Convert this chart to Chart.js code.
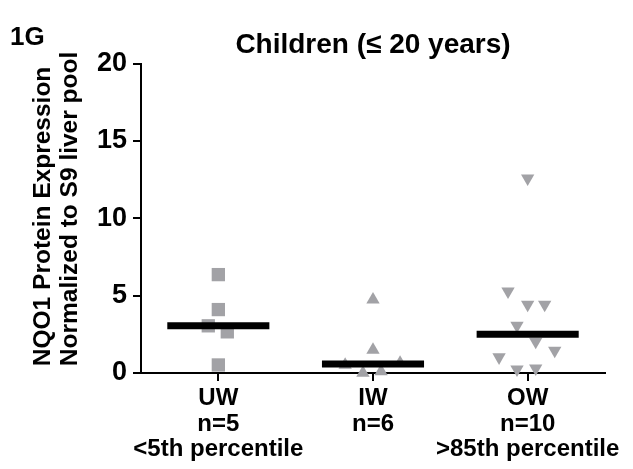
<!DOCTYPE html>
<html>
<head>
<meta charset="utf-8">
<script src="https://cdn.jsdelivr.net/npm/chart.js@4"></script>
<style>
  html, body { margin: 0; padding: 0; background: #fff; }
  #wrap { width: 633px; height: 469px; }
</style>
</head>
<body>
<div id="wrap"><canvas id="chart" width="633" height="469"></canvas></div>
<script>
// data
const groups = ['UW', 'IW', 'OW'];
const groupLabels = [['UW', 'n=5', '<5th percentile'], ['IW', 'n=6'], ['OW', 'n=10', '>85th percentile']];
const uwValues = [6.36, 4.1, 3.05, 2.66, 0.52];
const uwJitter = [0, 0, -0.065, 0.058, 0];
const iwValues = [4.74, 1.49, 0.52, 0.0, 0.1, 0.65];
const iwJitter = [0, 0, -0.18, -0.065, 0.052, 0.175];
const owValues = [12.58, 5.28, 4.42, 4.42, 3.07, 2.03, 1.45, 1.02, 0.24, 0.3];
const owJitter = [0, -0.127, 0, 0.11, -0.069, 0.052, 0.175, -0.185, -0.069, 0.052];
const medians = [3.05, 0.58, 2.5];
const yTicks = [0, 5, 10, 15, 20];

const FONT = "'Liberation Sans', Arial, sans-serif";
const grey = '#a2a2a6';

function pts(values, jitter, pos) {
  return values.map((v, i) => ({ x: pos + jitter[i], y: v }));
}
function medianLine(i) {
  return {
    type: 'line',
    data: [{ x: i + 1 - 0.33, y: medians[i] }, { x: i + 1 + 0.33, y: medians[i] }],
    borderColor: '#000',
    borderWidth: 7,
    borderCapStyle: 'butt',
    pointRadius: 0,
    order: 0,
    clip: false
  };
}

// "1G" panel letter
const panelTag = {
  id: 'panelTag',
  afterDraw(chart) {
    const c = chart.ctx;
    c.save();
    c.font = 'bold 26px ' + FONT;
    c.fillStyle = '#000';
    c.textBaseline = 'alphabetic';
    c.fillText('1G', 10, 45);
    c.restore();
  }
};

new Chart(document.getElementById('chart'), {
  type: 'scatter',
  data: {
    datasets: [
      medianLine(0), medianLine(1), medianLine(2),
      { data: pts(uwValues, uwJitter, 1), pointStyle: 'rect', pointRadius: 9.4, backgroundColor: grey, borderWidth: 0, order: 1, clip: false },
      { data: pts(iwValues, iwJitter, 2), pointStyle: 'triangle', pointRadius: 7.7, backgroundColor: grey, borderWidth: 0, order: 1, clip: false },
      { data: pts(owValues, owJitter, 3), pointStyle: 'triangle', rotation: 180, pointRadius: 7.7, backgroundColor: grey, borderWidth: 0, order: 1, clip: false }
    ]
  },
  options: {
    responsive: false,
    animation: false,
    layout: { padding: { left: 0, right: 28, top: 0, bottom: 0 } },
    plugins: {
      legend: { display: false },
      tooltip: { enabled: false },
      title: {
        display: true,
        fullSize: false,
        text: 'Children (\u2264 20 years)',
        color: '#000',
        font: { family: FONT, size: 28, weight: 'bold', lineHeight: 1.2 },
        padding: { top: 28, bottom: 2 }
      }
    },
    scales: {
      x: {
        type: 'linear',
        min: 0.5,
        max: 3.5,
        afterBuildTicks(scale) { scale.ticks = groups.map((g, i) => ({ value: i + 1 })); },
        afterFit(scale) { scale.height = 96; },
        border: { color: '#000', width: 2 },
        grid: { drawOnChartArea: false, drawTicks: true, tickLength: 8, color: '#000', lineWidth: 2 },
        ticks: {
          color: '#000',
          padding: 5,
          maxRotation: 0,
          autoSkip: false,
          font: { family: FONT, size: 24, weight: 'bold', lineHeight: 1.06 },
          callback: (v) => groupLabels[Math.round(v) - 1]
        }
      },
      y: {
        min: 0,
        max: 20,
        afterBuildTicks(scale) { scale.ticks = yTicks.map(v => ({ value: v })); },
        afterFit(scale) { scale.width = 141; },
        border: { color: '#000', width: 2 },
        grid: { drawOnChartArea: false, drawTicks: true, tickLength: 8, color: '#000', lineWidth: 2 },
        ticks: {
          color: '#000',
          padding: 6,
          font: { family: FONT, size: 27, weight: 'bold' }
        },
        title: {
          display: true,
          align: 'start',
          text: [' NQO1 Protein Expression', ' Normalized to S9 liver pool'],
          color: '#000',
          font: { family: FONT, size: 24.5, weight: 'bold', lineHeight: 1.1 },
          padding: { top: 29.5, bottom: 0 }
        }
      }
    }
  },
  plugins: [panelTag]
});
</script>
</body>
</html>
